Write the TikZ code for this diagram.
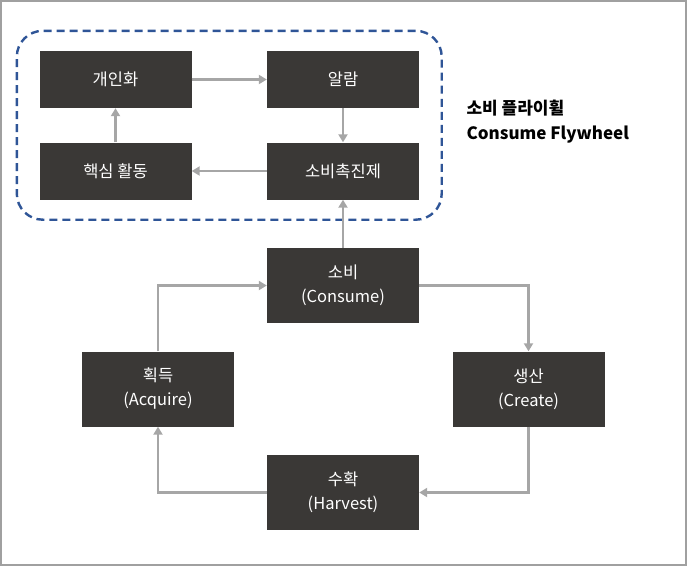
\documentclass[tikz,border=0pt]{standalone}
\usepackage{fontspec}
\setmainfont{Noto Sans CJK KR}
\usetikzlibrary{arrows.meta,fit}

\definecolor{boxgray}{HTML}{3A3836}
\definecolor{arrowgray}{HTML}{A6A6A6}
\definecolor{loopblue}{HTML}{2F5597}
\definecolor{framegray}{HTML}{A0A0A0}

\tikzset{
	stage/.style = {fill=boxgray, text=white, inner sep=0pt, align=center,
		minimum width=152pt, minimum height=57pt,
		font=\fontsize{16.5}{24}\selectfont},
	bigstage/.style = {stage, minimum height=75pt},
	flow/.style = {draw=arrowgray, line width=2.4pt,
		-{Triangle[length=8pt,width=9pt]}},
}

\begin{document}
\begin{tikzpicture}[x=1pt,y=-1pt]
	      	\useasboundingbox (0,0) rectangle (687,566);
	      	\draw[framegray, line width=1.6pt] (0.8,0.8) rectangle (686.2,565.2);
	      	% inner loop
	      	\node[stage] (personal) at (115.5,79.5) {개인화};
	      	\node[stage] (alarm)    at (343,79.5)   {알람};
	      	\node[stage] (core)     at (115.5,171)  {핵심 활동};
	      	\node[stage] (promo)    at (343,171)    {소비촉진제};
	      	\node[draw=loopblue, dashed, dash pattern=on 8pt off 5pt, line width=2.4pt,
	      	      rounded corners=26pt, inner xsep=22.5pt, inner ysep=20pt,
	      	      fit=(personal)(promo)] (loop) {};
	      	\node[anchor=west, align=left, font=\bfseries\fontsize{17}{25}\selectfont]
	      	      (title) at (463,122) {소비 플라이휠\\Consume Flywheel};
	      	% outer loop
	      	\node[bigstage] (consume) at (343,285.5) {소비\\(Consume)};
	      	\node[bigstage] (acquire) at (158,389)   {획득\\(Acquire)};
	      	\node[bigstage] (create)  at (528.5,389) {생산\\(Create)};
	      	\node[bigstage] (harvest) at (343,492.5) {수확\\(Harvest)};
	      	\draw[flow] (personal) -- (alarm);
	      	\draw[flow] (alarm) -- (promo);
	      	\draw[flow] (promo) -- (core);
	      	\draw[flow] (core) -- (personal);
	      	\draw[flow] (consume) -- (promo);
	      	\draw[flow] (consume.east) -| (create.north);
	      	\draw[flow] (create.south) |- (harvest.east);
	      	\draw[flow] (harvest.west) -| (acquire.south);
	      	\draw[flow] (acquire.north) |- (consume.west);
\end{tikzpicture}
\end{document}
